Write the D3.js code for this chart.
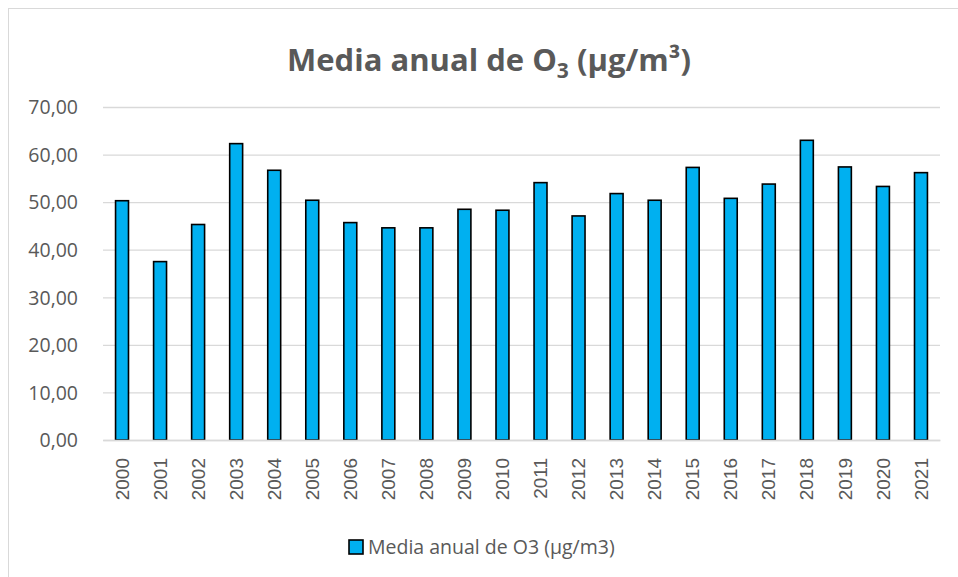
<!DOCTYPE html>
<html>
<head>
<meta charset="utf-8">
<script src="https://cdn.jsdelivr.net/npm/d3@7"></script>
<style>
  body { margin: 0; background: #fff; }
  svg { display: block; }
  .grid line { stroke: #d9d9d9; stroke-width: 1.3; }
  .axis text { fill: #595959; }
</style>
</head>
<body>
<div id="chart"></div>
<script>
const years = ['2000', '2001', '2002', '2003', '2004', '2005', '2006', '2007', '2008', '2009', '2010',
  '2011', '2012', '2013', '2014', '2015', '2016', '2017', '2018', '2019', '2020', '2021']
const o3Values = [50.3, 37.5, 45.3, 62.3, 56.7, 50.4, 45.7, 44.6, 44.6, 48.5, 48.3,
  54.1, 47.1, 51.8, 50.4, 57.3, 50.8, 53.8, 63.0, 57.4, 53.3, 56.2]
const yTicks = [0, 10, 20, 30, 40, 50, 60, 70]
const seriesName = 'Media anual de O3 (µg/m3)'

const width = 958
const height = 577
const margin = {top: 107, right: 18, bottom: 137, left: 103}
const innerW = width - margin.left - margin.right
const innerH = height - margin.top - margin.bottom
const textColor = '#595959'
const barColor = '#00b0f0'

const svg = d3.select('#chart').append('svg')
  .attr('width', width)
  .attr('height', height)

// chart frame
svg.append('rect')
  .attr('x', 8.5).attr('y', 8.5)
  .attr('width', width + 20).attr('height', height + 20)
  .attr('fill', 'none')
  .attr('stroke', '#d9d9d9')

// title
const title = svg.append('text')
  .attr('x', 489).attr('y', 71)
  .attr('text-anchor', 'middle')
  .attr('font-family', 'Open Sans, sans-serif')
  .attr('font-weight', 'bold')
  .attr('font-size', 31)
  .attr('fill', textColor)
title.append('tspan').text('Media anual de O')
title.append('tspan').attr('font-size', 21).attr('dy', 7).text('3')
title.append('tspan').attr('dy', -7).text(' (µg/m³)')

const g = svg.append('g')
  .attr('transform', 'translate(' + margin.left + ',' + margin.top + ')')

const x = d3.scaleBand()
  .domain(years)
  .range([0, innerW])
  .paddingInner(0.66)
  .paddingOuter(0.33)

const y = d3.scaleLinear()
  .domain([0, 70])
  .range([innerH, 0])

// gridlines
g.append('g')
  .attr('class', 'grid')
  .call(d3.axisLeft(y).tickValues(yTicks).tickSize(-innerW).tickFormat(''))
  .call(s => s.select('.domain').remove())

// y axis labels
g.append('g')
  .attr('class', 'axis')
  .attr('transform', 'translate(-22,0)')
  .call(d3.axisLeft(y).tickValues(yTicks).tickSize(0)
    .tickFormat(d => d3.format('.2f')(d).replace('.', ',')))
  .call(s => s.select('.domain').remove())
  .selectAll('text')
  .attr('font-family', 'Open Sans, sans-serif')
  .attr('font-size', 19.5)
  .attr('dy', '0.35em')

// bars
g.selectAll('rect.bar')
  .data(o3Values)
  .enter().append('rect')
  .attr('class', 'bar')
  .attr('x', (d, i) => x(years[i]))
  .attr('y', d => y(d))
  .attr('width', x.bandwidth())
  .attr('height', d => innerH - y(d))
  .attr('fill', barColor)
  .attr('stroke', '#000')
  .attr('stroke-width', 1.6)

// x axis
const xAxis = g.append('g')
  .attr('class', 'axis')
  .attr('transform', 'translate(0,' + innerH + ')')
  .call(d3.axisBottom(x).tickSize(0))
xAxis.select('.domain').attr('stroke', '#d9d9d9').attr('stroke-width', 1.3)
xAxis.selectAll('text')
  .attr('font-family', 'Liberation Sans, Arial, sans-serif')
  .attr('font-size', 19)
  .attr('transform', 'rotate(-90)')
  .attr('text-anchor', 'end')
  .attr('x', -18)
  .attr('y', 0)
  .attr('dy', '0.35em')

// legend
const legend = svg.append('g').attr('transform', 'translate(349,540)')
legend.append('rect')
  .attr('width', 14).attr('height', 14)
  .attr('fill', barColor)
  .attr('stroke', '#000')
  .attr('stroke-width', 1.6)
legend.append('text')
  .attr('x', 19).attr('y', 14)
  .attr('font-family', 'Open Sans, sans-serif')
  .attr('font-size', 19.5)
  .attr('fill', textColor)
  .text(seriesName)
</script>
</body>
</html>
